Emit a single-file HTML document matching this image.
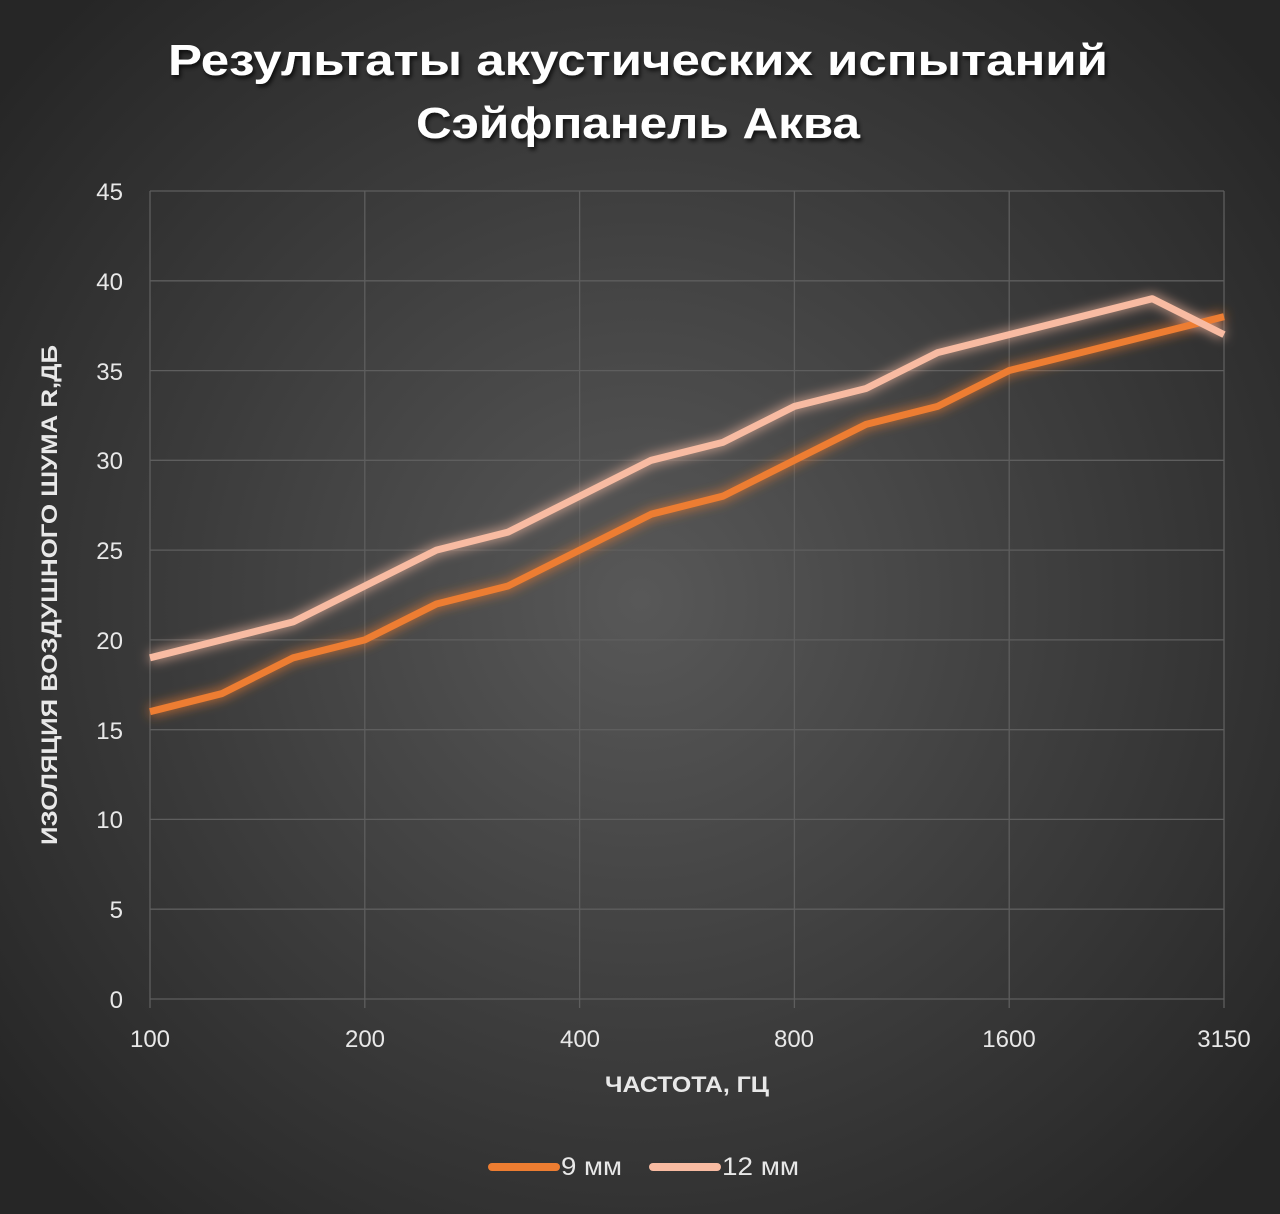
<!DOCTYPE html>
<html><head><meta charset="utf-8"><style>
html,body{margin:0;padding:0;width:1280px;height:1214px;overflow:hidden;background:#2b2b2b;}
svg{display:block}
text{font-family:"Liberation Sans",sans-serif;}
</style></head><body>
<svg width="1280" height="1214" viewBox="0 0 1280 1214" xmlns="http://www.w3.org/2000/svg">
<defs>
<radialGradient id="bg" cx="640" cy="600" r="820" gradientUnits="userSpaceOnUse">
<stop offset="0" stop-color="#585858"/>
<stop offset="0.55" stop-color="#3c3c3c"/>
<stop offset="1" stop-color="#262626"/>
</radialGradient>
<filter id="glow" x="-10%" y="-10%" width="120%" height="120%">
<feGaussianBlur in="SourceGraphic" stdDeviation="6" result="b"/>
<feMerge><feMergeNode in="b"/><feMergeNode in="SourceGraphic"/></feMerge>
</filter>
<filter id="ts"><feDropShadow dx="2" dy="3" stdDeviation="2" flood-color="#000" flood-opacity="0.7"/></filter>
</defs>
<rect width="1280" height="1214" fill="url(#bg)"/>
<g filter="url(#ts)" fill="#fff" font-weight="bold" font-size="44" text-anchor="middle">
<text x="638" y="75" textLength="940" lengthAdjust="spacingAndGlyphs">Результаты акустических испытаний</text>
<text x="638" y="138" textLength="444" lengthAdjust="spacingAndGlyphs">Сэйфпанель Аква</text>
</g>
<g stroke="#5e5e5e" stroke-width="1.3">
<line x1="150" y1="191" x2="1224" y2="191"/>
<line x1="150" y1="280.8" x2="1224" y2="280.8"/>
<line x1="150" y1="370.6" x2="1224" y2="370.6"/>
<line x1="150" y1="460.3" x2="1224" y2="460.3"/>
<line x1="150" y1="550.1" x2="1224" y2="550.1"/>
<line x1="150" y1="639.9" x2="1224" y2="639.9"/>
<line x1="150" y1="729.7" x2="1224" y2="729.7"/>
<line x1="150" y1="819.4" x2="1224" y2="819.4"/>
<line x1="150" y1="909.2" x2="1224" y2="909.2"/>
<line x1="150" y1="999" x2="1224" y2="999"/>
<line x1="150" y1="191" x2="150" y2="1008"/>
<line x1="364.8" y1="191" x2="364.8" y2="1008"/>
<line x1="579.6" y1="191" x2="579.6" y2="1008"/>
<line x1="794.4" y1="191" x2="794.4" y2="1008"/>
<line x1="1009.2" y1="191" x2="1009.2" y2="1008"/>
<line x1="1224" y1="191" x2="1224" y2="1008"/>
</g>
<g fill="#e8e8e8" font-size="24" text-anchor="end">
<text x="123" y="200">45</text><text x="123" y="290">40</text><text x="123" y="380">35</text>
<text x="123" y="469">30</text><text x="123" y="559">25</text><text x="123" y="649">20</text>
<text x="123" y="739">15</text><text x="123" y="828">10</text><text x="123" y="918">5</text>
<text x="123" y="1008">0</text>
</g>
<g fill="#e8e8e8" font-size="24" text-anchor="middle">
<text x="150" y="1047">100</text><text x="365" y="1047">200</text><text x="580" y="1047">400</text>
<text x="794" y="1047">800</text><text x="1009" y="1047">1600</text><text x="1224" y="1047">3150</text>
</g>
<text x="687" y="1092" fill="#e8e8e8" font-size="22" font-weight="bold" text-anchor="middle" textLength="164" lengthAdjust="spacingAndGlyphs">ЧАСТОТА, ГЦ</text>
<text transform="translate(57,595) rotate(-90)" fill="#e8e8e8" font-size="22" font-weight="bold" text-anchor="middle" textLength="500" lengthAdjust="spacingAndGlyphs">ИЗОЛЯЦИЯ ВОЗДУШНОГО ШУМА R,ДБ</text>
<g fill="none" stroke-width="7" stroke-linejoin="round" filter="url(#glow)">
<polyline stroke="#ED7D31" points="150,711.7 221.6,693.7 293.2,657.8 364.8,639.9 436.4,604 508,586 579.6,550.1 651.2,514.2 722.8,496.2 794.4,460.3 866,424.4 937.6,406.4 1009.2,370.5 1080.8,352.6 1152.4,334.6 1224,316.7"/>
<polyline stroke="#F8BBA2" points="150,657.8 221.6,639.9 293.2,621.9 364.8,586 436.4,550.1 508,532.1 579.6,496.2 651.2,460.3 722.8,442.4 794.4,406.4 866,388.5 937.6,352.6 1009.2,334.6 1080.8,316.7 1152.4,298.7 1224,334.6"/>
</g>
<line x1="492" y1="1167" x2="556" y2="1167" stroke="#ED7D31" stroke-width="8" stroke-linecap="round"/>
<text x="561" y="1175" fill="#e8e8e8" font-size="25" textLength="61" lengthAdjust="spacingAndGlyphs">9 мм</text>
<line x1="653" y1="1167" x2="717" y2="1167" stroke="#F8BBA2" stroke-width="8" stroke-linecap="round"/>
<text x="722" y="1175" fill="#e8e8e8" font-size="25" textLength="77" lengthAdjust="spacingAndGlyphs">12 мм</text>
</svg>
</body></html>
